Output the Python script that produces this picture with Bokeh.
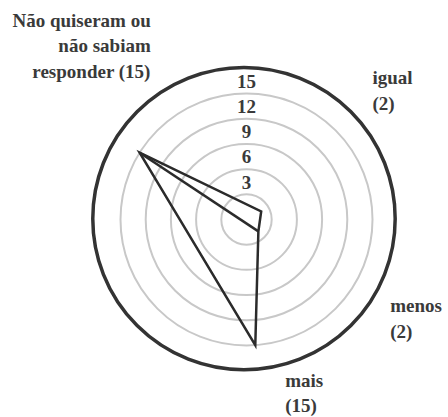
import math
from bokeh.plotting import figure
from bokeh.models import ColumnDataSource
from bokeh.core.properties import value
from bokeh.embed import file_html
from bokeh.resources import INLINE

# ---- data ----
categories = ["Não quiseram ou\nnão sabiam\nresponder (15)", "igual\n(2)", "menos\n(2)", "mais\n(15)"]
values = [15, 2, 2, 15]
tick_values = [3, 6, 9, 12, 15]
tick_labels = ["3", "6", "9", "12", "15"]
outer_value = 18

# ---- layout (not data) ----
axis_angles = [148, 29, -45, -86]          # degrees, direction of each vertex
label_anchor = [(-11.4, 23.75), (15.0, 16.9), (17.1, -10.25), (4.6, -19.15)]  # first-line centre
label_align = ["right", "left", "left", "left"]
line_step = 3.05                              # units between label lines

PX = 8.4            # pixels per unit
W, H = 448, 417
cx_px, cy_px = 246, 219

p = figure(width=W, height=H, output_backend="svg", toolbar_location=None,
           x_range=(-cx_px / PX, (W - cx_px) / PX),
           y_range=(-(H - cy_px) / PX, cy_px / PX),
           min_border=0, match_aspect=False)
p.axis.visible = False
p.grid.visible = False
p.outline_line_color = None
p.background_fill_color = "white"
p.border_fill_color = "white"

# grey rings
p.circle(x=[0] * len(tick_values), y=[0] * len(tick_values), radius=tick_values,
         fill_color=None, line_color="#c8c8c8", line_width=2)
# outer ring
p.circle(x=[-0.3], y=[0.1], radius=[outer_value], fill_color=None,
         line_color="#333333", line_width=3.5)

# tick labels
p.text(x=[0] * len(tick_values), y=[v + 1.45 for v in tick_values], text=tick_labels,
       text_align="center", text_baseline="middle", text_font=value("Liberation Sans Narrow"),
       text_font_style="bold", text_font_size="19px", text_color="#3a3a3a")

# polygon
xs = [v * math.cos(math.radians(a)) for v, a in zip(values, axis_angles)]
ys = [v * math.sin(math.radians(a)) for v, a in zip(values, axis_angles)]
p.patch(x=xs, y=ys, fill_color=None, line_color="#2b2b2b", line_width=2.5, line_join="miter")
p.line(x=[xs[0], xs[2]], y=[ys[0], ys[2]], line_color="#2b2b2b", line_width=2.5)

# category labels
lx, ly, lt, la = [], [], [], []
for cat, (ax, ay), al in zip(categories, label_anchor, label_align):
    for i, line in enumerate(cat.split("\n")):
        lx.append(ax)
        ly.append(ay - i * line_step)
        lt.append(line)
        la.append(al)
src = ColumnDataSource(dict(x=lx, y=ly, text=lt, align=la))
p.text(x="x", y="y", text="text", source=src, text_align="align", text_baseline="middle",
       text_font=value("Liberation Sans Narrow"), text_font_style="bold",
       text_font_size="19px", text_color="#3a3a3a")

open("out.html", "w").write(file_html(p, INLINE))
